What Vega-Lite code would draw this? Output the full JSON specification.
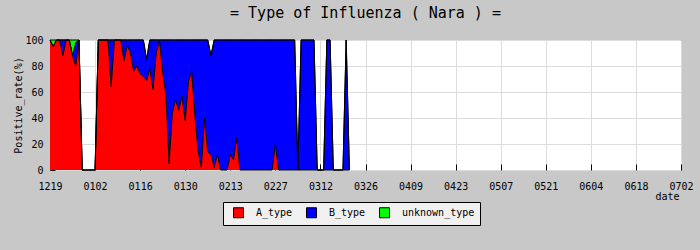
{
  "$schema": "https://vega.github.io/schema/vega-lite/v6.json",
  "width": 631,
  "height": 130,
  "autosize": "none",
  "padding": {"left": 50, "top": 40, "right": 19, "bottom": 80},
  "background": "#c8c8c8",
  "title": {
    "text": "= Type of Influenza ( Nara ) =",
    "font": "DejaVu Sans Mono",
    "fontSize": 15,
    "fontWeight": "normal",
    "color": "#000000",
    "anchor": "middle",
    "offset": 14
  },
  "config": {
    "view": {"fill": "#ffffff", "stroke": "#000000", "strokeWidth": 1}
  },
  "data": {
    "values": [
      {"date": "2023-12-19", "type": "A_type", "value": 100}, {"date": "2023-12-19", "type": "B_type", "value": 0}, {"date": "2023-12-19", "type": "unknown_type", "value": 0},
      {"date": "2023-12-20", "type": "A_type", "value": 95}, {"date": "2023-12-20", "type": "B_type", "value": 0}, {"date": "2023-12-20", "type": "unknown_type", "value": 5},
      {"date": "2023-12-21", "type": "A_type", "value": 100}, {"date": "2023-12-21", "type": "B_type", "value": 0}, {"date": "2023-12-21", "type": "unknown_type", "value": 0},
      {"date": "2023-12-22", "type": "A_type", "value": 100}, {"date": "2023-12-22", "type": "B_type", "value": 0}, {"date": "2023-12-22", "type": "unknown_type", "value": 0},
      {"date": "2023-12-23", "type": "A_type", "value": 88}, {"date": "2023-12-23", "type": "B_type", "value": 12}, {"date": "2023-12-23", "type": "unknown_type", "value": 0},
      {"date": "2023-12-24", "type": "A_type", "value": 100}, {"date": "2023-12-24", "type": "B_type", "value": 0}, {"date": "2023-12-24", "type": "unknown_type", "value": 0},
      {"date": "2023-12-25", "type": "A_type", "value": 100}, {"date": "2023-12-25", "type": "B_type", "value": 0}, {"date": "2023-12-25", "type": "unknown_type", "value": 0},
      {"date": "2023-12-26", "type": "A_type", "value": 88}, {"date": "2023-12-26", "type": "B_type", "value": 0}, {"date": "2023-12-26", "type": "unknown_type", "value": 12},
      {"date": "2023-12-27", "type": "A_type", "value": 80}, {"date": "2023-12-27", "type": "B_type", "value": 18}, {"date": "2023-12-27", "type": "unknown_type", "value": 2},
      {"date": "2023-12-28", "type": "A_type", "value": 100}, {"date": "2023-12-28", "type": "B_type", "value": 0}, {"date": "2023-12-28", "type": "unknown_type", "value": 0},
      {"date": "2023-12-29", "type": "A_type", "value": 0}, {"date": "2023-12-29", "type": "B_type", "value": 0}, {"date": "2023-12-29", "type": "unknown_type", "value": 0},
      {"date": "2023-12-30", "type": "A_type", "value": 0}, {"date": "2023-12-30", "type": "B_type", "value": 0}, {"date": "2023-12-30", "type": "unknown_type", "value": 0},
      {"date": "2023-12-31", "type": "A_type", "value": 0}, {"date": "2023-12-31", "type": "B_type", "value": 0}, {"date": "2023-12-31", "type": "unknown_type", "value": 0},
      {"date": "2024-01-01", "type": "A_type", "value": 0}, {"date": "2024-01-01", "type": "B_type", "value": 0}, {"date": "2024-01-01", "type": "unknown_type", "value": 0},
      {"date": "2024-01-02", "type": "A_type", "value": 0}, {"date": "2024-01-02", "type": "B_type", "value": 0}, {"date": "2024-01-02", "type": "unknown_type", "value": 0},
      {"date": "2024-01-03", "type": "A_type", "value": 100}, {"date": "2024-01-03", "type": "B_type", "value": 0}, {"date": "2024-01-03", "type": "unknown_type", "value": 0},
      {"date": "2024-01-04", "type": "A_type", "value": 100}, {"date": "2024-01-04", "type": "B_type", "value": 0}, {"date": "2024-01-04", "type": "unknown_type", "value": 0},
      {"date": "2024-01-05", "type": "A_type", "value": 100}, {"date": "2024-01-05", "type": "B_type", "value": 0}, {"date": "2024-01-05", "type": "unknown_type", "value": 0},
      {"date": "2024-01-06", "type": "A_type", "value": 100}, {"date": "2024-01-06", "type": "B_type", "value": 0}, {"date": "2024-01-06", "type": "unknown_type", "value": 0},
      {"date": "2024-01-07", "type": "A_type", "value": 64}, {"date": "2024-01-07", "type": "B_type", "value": 36}, {"date": "2024-01-07", "type": "unknown_type", "value": 0},
      {"date": "2024-01-08", "type": "A_type", "value": 100}, {"date": "2024-01-08", "type": "B_type", "value": 0}, {"date": "2024-01-08", "type": "unknown_type", "value": 0},
      {"date": "2024-01-09", "type": "A_type", "value": 100}, {"date": "2024-01-09", "type": "B_type", "value": 0}, {"date": "2024-01-09", "type": "unknown_type", "value": 0},
      {"date": "2024-01-10", "type": "A_type", "value": 100}, {"date": "2024-01-10", "type": "B_type", "value": 0}, {"date": "2024-01-10", "type": "unknown_type", "value": 0},
      {"date": "2024-01-11", "type": "A_type", "value": 84}, {"date": "2024-01-11", "type": "B_type", "value": 16}, {"date": "2024-01-11", "type": "unknown_type", "value": 0},
      {"date": "2024-01-12", "type": "A_type", "value": 96}, {"date": "2024-01-12", "type": "B_type", "value": 4}, {"date": "2024-01-12", "type": "unknown_type", "value": 0},
      {"date": "2024-01-13", "type": "A_type", "value": 90}, {"date": "2024-01-13", "type": "B_type", "value": 10}, {"date": "2024-01-13", "type": "unknown_type", "value": 0},
      {"date": "2024-01-14", "type": "A_type", "value": 76}, {"date": "2024-01-14", "type": "B_type", "value": 24}, {"date": "2024-01-14", "type": "unknown_type", "value": 0},
      {"date": "2024-01-15", "type": "A_type", "value": 80}, {"date": "2024-01-15", "type": "B_type", "value": 20}, {"date": "2024-01-15", "type": "unknown_type", "value": 0},
      {"date": "2024-01-16", "type": "A_type", "value": 74}, {"date": "2024-01-16", "type": "B_type", "value": 26}, {"date": "2024-01-16", "type": "unknown_type", "value": 0},
      {"date": "2024-01-17", "type": "A_type", "value": 72}, {"date": "2024-01-17", "type": "B_type", "value": 28}, {"date": "2024-01-17", "type": "unknown_type", "value": 0},
      {"date": "2024-01-18", "type": "A_type", "value": 69}, {"date": "2024-01-18", "type": "B_type", "value": 16}, {"date": "2024-01-18", "type": "unknown_type", "value": 0},
      {"date": "2024-01-19", "type": "A_type", "value": 78}, {"date": "2024-01-19", "type": "B_type", "value": 22}, {"date": "2024-01-19", "type": "unknown_type", "value": 0},
      {"date": "2024-01-20", "type": "A_type", "value": 62}, {"date": "2024-01-20", "type": "B_type", "value": 38}, {"date": "2024-01-20", "type": "unknown_type", "value": 0},
      {"date": "2024-01-21", "type": "A_type", "value": 90}, {"date": "2024-01-21", "type": "B_type", "value": 10}, {"date": "2024-01-21", "type": "unknown_type", "value": 0},
      {"date": "2024-01-22", "type": "A_type", "value": 100}, {"date": "2024-01-22", "type": "B_type", "value": 0}, {"date": "2024-01-22", "type": "unknown_type", "value": 0},
      {"date": "2024-01-23", "type": "A_type", "value": 75}, {"date": "2024-01-23", "type": "B_type", "value": 25}, {"date": "2024-01-23", "type": "unknown_type", "value": 0},
      {"date": "2024-01-24", "type": "A_type", "value": 58}, {"date": "2024-01-24", "type": "B_type", "value": 42}, {"date": "2024-01-24", "type": "unknown_type", "value": 0},
      {"date": "2024-01-25", "type": "A_type", "value": 5}, {"date": "2024-01-25", "type": "B_type", "value": 95}, {"date": "2024-01-25", "type": "unknown_type", "value": 0},
      {"date": "2024-01-26", "type": "A_type", "value": 44}, {"date": "2024-01-26", "type": "B_type", "value": 56}, {"date": "2024-01-26", "type": "unknown_type", "value": 0},
      {"date": "2024-01-27", "type": "A_type", "value": 54}, {"date": "2024-01-27", "type": "B_type", "value": 46}, {"date": "2024-01-27", "type": "unknown_type", "value": 0},
      {"date": "2024-01-28", "type": "A_type", "value": 46}, {"date": "2024-01-28", "type": "B_type", "value": 54}, {"date": "2024-01-28", "type": "unknown_type", "value": 0},
      {"date": "2024-01-29", "type": "A_type", "value": 57}, {"date": "2024-01-29", "type": "B_type", "value": 43}, {"date": "2024-01-29", "type": "unknown_type", "value": 0},
      {"date": "2024-01-30", "type": "A_type", "value": 38}, {"date": "2024-01-30", "type": "B_type", "value": 62}, {"date": "2024-01-30", "type": "unknown_type", "value": 0},
      {"date": "2024-01-31", "type": "A_type", "value": 68}, {"date": "2024-01-31", "type": "B_type", "value": 32}, {"date": "2024-01-31", "type": "unknown_type", "value": 0},
      {"date": "2024-02-01", "type": "A_type", "value": 76}, {"date": "2024-02-01", "type": "B_type", "value": 24}, {"date": "2024-02-01", "type": "unknown_type", "value": 0},
      {"date": "2024-02-02", "type": "A_type", "value": 42}, {"date": "2024-02-02", "type": "B_type", "value": 58}, {"date": "2024-02-02", "type": "unknown_type", "value": 0},
      {"date": "2024-02-03", "type": "A_type", "value": 15}, {"date": "2024-02-03", "type": "B_type", "value": 85}, {"date": "2024-02-03", "type": "unknown_type", "value": 0},
      {"date": "2024-02-04", "type": "A_type", "value": 2}, {"date": "2024-02-04", "type": "B_type", "value": 98}, {"date": "2024-02-04", "type": "unknown_type", "value": 0},
      {"date": "2024-02-05", "type": "A_type", "value": 40}, {"date": "2024-02-05", "type": "B_type", "value": 60}, {"date": "2024-02-05", "type": "unknown_type", "value": 0},
      {"date": "2024-02-06", "type": "A_type", "value": 14}, {"date": "2024-02-06", "type": "B_type", "value": 86}, {"date": "2024-02-06", "type": "unknown_type", "value": 0},
      {"date": "2024-02-07", "type": "A_type", "value": 12}, {"date": "2024-02-07", "type": "B_type", "value": 76}, {"date": "2024-02-07", "type": "unknown_type", "value": 0},
      {"date": "2024-02-08", "type": "A_type", "value": 2}, {"date": "2024-02-08", "type": "B_type", "value": 98}, {"date": "2024-02-08", "type": "unknown_type", "value": 0},
      {"date": "2024-02-09", "type": "A_type", "value": 12}, {"date": "2024-02-09", "type": "B_type", "value": 88}, {"date": "2024-02-09", "type": "unknown_type", "value": 0},
      {"date": "2024-02-10", "type": "A_type", "value": 0}, {"date": "2024-02-10", "type": "B_type", "value": 100}, {"date": "2024-02-10", "type": "unknown_type", "value": 0},
      {"date": "2024-02-11", "type": "A_type", "value": 0}, {"date": "2024-02-11", "type": "B_type", "value": 100}, {"date": "2024-02-11", "type": "unknown_type", "value": 0},
      {"date": "2024-02-12", "type": "A_type", "value": 0}, {"date": "2024-02-12", "type": "B_type", "value": 100}, {"date": "2024-02-12", "type": "unknown_type", "value": 0},
      {"date": "2024-02-13", "type": "A_type", "value": 12}, {"date": "2024-02-13", "type": "B_type", "value": 88}, {"date": "2024-02-13", "type": "unknown_type", "value": 0},
      {"date": "2024-02-14", "type": "A_type", "value": 8}, {"date": "2024-02-14", "type": "B_type", "value": 92}, {"date": "2024-02-14", "type": "unknown_type", "value": 0},
      {"date": "2024-02-15", "type": "A_type", "value": 25}, {"date": "2024-02-15", "type": "B_type", "value": 75}, {"date": "2024-02-15", "type": "unknown_type", "value": 0},
      {"date": "2024-02-16", "type": "A_type", "value": 0}, {"date": "2024-02-16", "type": "B_type", "value": 100}, {"date": "2024-02-16", "type": "unknown_type", "value": 0},
      {"date": "2024-02-17", "type": "A_type", "value": 0}, {"date": "2024-02-17", "type": "B_type", "value": 100}, {"date": "2024-02-17", "type": "unknown_type", "value": 0},
      {"date": "2024-02-18", "type": "A_type", "value": 0}, {"date": "2024-02-18", "type": "B_type", "value": 100}, {"date": "2024-02-18", "type": "unknown_type", "value": 0},
      {"date": "2024-02-19", "type": "A_type", "value": 0}, {"date": "2024-02-19", "type": "B_type", "value": 100}, {"date": "2024-02-19", "type": "unknown_type", "value": 0},
      {"date": "2024-02-20", "type": "A_type", "value": 0}, {"date": "2024-02-20", "type": "B_type", "value": 100}, {"date": "2024-02-20", "type": "unknown_type", "value": 0},
      {"date": "2024-02-21", "type": "A_type", "value": 0}, {"date": "2024-02-21", "type": "B_type", "value": 100}, {"date": "2024-02-21", "type": "unknown_type", "value": 0},
      {"date": "2024-02-22", "type": "A_type", "value": 0}, {"date": "2024-02-22", "type": "B_type", "value": 100}, {"date": "2024-02-22", "type": "unknown_type", "value": 0},
      {"date": "2024-02-23", "type": "A_type", "value": 0}, {"date": "2024-02-23", "type": "B_type", "value": 100}, {"date": "2024-02-23", "type": "unknown_type", "value": 0},
      {"date": "2024-02-24", "type": "A_type", "value": 0}, {"date": "2024-02-24", "type": "B_type", "value": 100}, {"date": "2024-02-24", "type": "unknown_type", "value": 0},
      {"date": "2024-02-25", "type": "A_type", "value": 0}, {"date": "2024-02-25", "type": "B_type", "value": 100}, {"date": "2024-02-25", "type": "unknown_type", "value": 0},
      {"date": "2024-02-26", "type": "A_type", "value": 0}, {"date": "2024-02-26", "type": "B_type", "value": 100}, {"date": "2024-02-26", "type": "unknown_type", "value": 0},
      {"date": "2024-02-27", "type": "A_type", "value": 20}, {"date": "2024-02-27", "type": "B_type", "value": 80}, {"date": "2024-02-27", "type": "unknown_type", "value": 0},
      {"date": "2024-02-28", "type": "A_type", "value": 0}, {"date": "2024-02-28", "type": "B_type", "value": 100}, {"date": "2024-02-28", "type": "unknown_type", "value": 0},
      {"date": "2024-02-29", "type": "A_type", "value": 0}, {"date": "2024-02-29", "type": "B_type", "value": 100}, {"date": "2024-02-29", "type": "unknown_type", "value": 0},
      {"date": "2024-03-01", "type": "A_type", "value": 0}, {"date": "2024-03-01", "type": "B_type", "value": 100}, {"date": "2024-03-01", "type": "unknown_type", "value": 0},
      {"date": "2024-03-02", "type": "A_type", "value": 0}, {"date": "2024-03-02", "type": "B_type", "value": 100}, {"date": "2024-03-02", "type": "unknown_type", "value": 0},
      {"date": "2024-03-03", "type": "A_type", "value": 0}, {"date": "2024-03-03", "type": "B_type", "value": 100}, {"date": "2024-03-03", "type": "unknown_type", "value": 0},
      {"date": "2024-03-04", "type": "A_type", "value": 0}, {"date": "2024-03-04", "type": "B_type", "value": 100}, {"date": "2024-03-04", "type": "unknown_type", "value": 0},
      {"date": "2024-03-05", "type": "A_type", "value": 0}, {"date": "2024-03-05", "type": "B_type", "value": 0}, {"date": "2024-03-05", "type": "unknown_type", "value": 0},
      {"date": "2024-03-06", "type": "A_type", "value": 0}, {"date": "2024-03-06", "type": "B_type", "value": 100}, {"date": "2024-03-06", "type": "unknown_type", "value": 0},
      {"date": "2024-03-07", "type": "A_type", "value": 0}, {"date": "2024-03-07", "type": "B_type", "value": 100}, {"date": "2024-03-07", "type": "unknown_type", "value": 0},
      {"date": "2024-03-08", "type": "A_type", "value": 0}, {"date": "2024-03-08", "type": "B_type", "value": 100}, {"date": "2024-03-08", "type": "unknown_type", "value": 0},
      {"date": "2024-03-09", "type": "A_type", "value": 0}, {"date": "2024-03-09", "type": "B_type", "value": 100}, {"date": "2024-03-09", "type": "unknown_type", "value": 0},
      {"date": "2024-03-10", "type": "A_type", "value": 0}, {"date": "2024-03-10", "type": "B_type", "value": 100}, {"date": "2024-03-10", "type": "unknown_type", "value": 0},
      {"date": "2024-03-11", "type": "A_type", "value": 0}, {"date": "2024-03-11", "type": "B_type", "value": 0}, {"date": "2024-03-11", "type": "unknown_type", "value": 0},
      {"date": "2024-03-12", "type": "A_type", "value": 0}, {"date": "2024-03-12", "type": "B_type", "value": 0}, {"date": "2024-03-12", "type": "unknown_type", "value": 0},
      {"date": "2024-03-13", "type": "A_type", "value": 0}, {"date": "2024-03-13", "type": "B_type", "value": 0}, {"date": "2024-03-13", "type": "unknown_type", "value": 0},
      {"date": "2024-03-14", "type": "A_type", "value": 0}, {"date": "2024-03-14", "type": "B_type", "value": 100}, {"date": "2024-03-14", "type": "unknown_type", "value": 0},
      {"date": "2024-03-15", "type": "A_type", "value": 0}, {"date": "2024-03-15", "type": "B_type", "value": 100}, {"date": "2024-03-15", "type": "unknown_type", "value": 0},
      {"date": "2024-03-16", "type": "A_type", "value": 0}, {"date": "2024-03-16", "type": "B_type", "value": 0}, {"date": "2024-03-16", "type": "unknown_type", "value": 0},
      {"date": "2024-03-17", "type": "A_type", "value": 0}, {"date": "2024-03-17", "type": "B_type", "value": 0}, {"date": "2024-03-17", "type": "unknown_type", "value": 0},
      {"date": "2024-03-18", "type": "A_type", "value": 0}, {"date": "2024-03-18", "type": "B_type", "value": 0}, {"date": "2024-03-18", "type": "unknown_type", "value": 0},
      {"date": "2024-03-19", "type": "A_type", "value": 0}, {"date": "2024-03-19", "type": "B_type", "value": 0}, {"date": "2024-03-19", "type": "unknown_type", "value": 0},
      {"date": "2024-03-20", "type": "A_type", "value": 0}, {"date": "2024-03-20", "type": "B_type", "value": 100}, {"date": "2024-03-20", "type": "unknown_type", "value": 0},
      {"date": "2024-03-21", "type": "A_type", "value": 0}, {"date": "2024-03-21", "type": "B_type", "value": 0}, {"date": "2024-03-21", "type": "unknown_type", "value": 0}
    ]
  },
  "encoding": {
    "x": {
      "field": "date",
      "type": "temporal",
      "scale": {
        "type": "utc",
        "nice": false,
        "domain": [
          {"year": 2023, "month": 12, "date": 19, "utc": true},
          {"year": 2024, "month": 7, "date": 2, "utc": true}
        ]
      },
      "axis": {
        "values": [
          {"year": 2023, "month": 12, "date": 19, "utc": true},
          {"year": 2024, "month": 1, "date": 2, "utc": true},
          {"year": 2024, "month": 1, "date": 16, "utc": true},
          {"year": 2024, "month": 1, "date": 30, "utc": true},
          {"year": 2024, "month": 2, "date": 13, "utc": true},
          {"year": 2024, "month": 2, "date": 27, "utc": true},
          {"year": 2024, "month": 3, "date": 12, "utc": true},
          {"year": 2024, "month": 3, "date": 26, "utc": true},
          {"year": 2024, "month": 4, "date": 9, "utc": true},
          {"year": 2024, "month": 4, "date": 23, "utc": true},
          {"year": 2024, "month": 5, "date": 7, "utc": true},
          {"year": 2024, "month": 5, "date": 21, "utc": true},
          {"year": 2024, "month": 6, "date": 4, "utc": true},
          {"year": 2024, "month": 6, "date": 18, "utc": true},
          {"year": 2024, "month": 7, "date": 2, "utc": true}
        ],
        "format": "%m%d",
        "labelAngle": 0,
        "labelFlush": false,
        "labelOverlap": false,
        "labelFont": "DejaVu Sans Mono",
        "labelFontSize": 10,
        "labelColor": "#000000",
        "labelPadding": 17,
        "tickSize": -6,
        "tickColor": "#000000",
        "domain": false,
        "grid": true,
        "gridColor": "#dcdcdc",
        "title": "date",
        "titleFont": "DejaVu Sans Mono",
        "titleFontSize": 10,
        "titleFontWeight": "normal",
        "titleColor": "#000000",
        "titleAnchor": "end",
        "titleAlign": "right",
        "titleBaseline": "alphabetic",
        "titleX": 629,
        "titleY": 29
      }
    },
    "y": {
      "field": "value",
      "type": "quantitative",
      "stack": "zero",
      "scale": {"domain": [0, 100], "nice": false},
      "axis": {
        "values": [0, 10, 20, 30, 40, 50, 60, 70, 80, 90, 100],
        "labelExpr": "datum.value % 20 === 0 ? datum.label : ''",
        "labelFont": "DejaVu Sans Mono",
        "labelFontSize": 10,
        "labelColor": "#000000",
        "labelPadding": 12,
        "tickSize": -5,
        "tickColor": "#000000",
        "domain": false,
        "grid": true,
        "gridColor": {"condition": {"test": "datum.value % 20 === 0", "value": "#dcdcdc"}, "value": "transparent"},
        "title": "Positive_rate(%)",
        "titleFont": "DejaVu Sans Mono",
        "titleFontSize": 10,
        "titleFontWeight": "normal",
        "titleColor": "#000000",
        "titlePadding": 1
      }
    },
    "order": {"field": "type", "sort": "ascending"}
  },
  "layer": [
    {
      "mark": {"type": "area", "interpolate": "linear", "opacity": 1},
      "encoding": {
        "color": {
          "field": "type",
          "type": "nominal",
          "scale": {
            "domain": ["A_type", "B_type", "unknown_type"],
            "range": ["#ff0000", "#0000ff", "#00ff00"]
          },
          "legend": {
            "orient": "none",
            "legendX": 173,
            "legendY": 162,
            "direction": "horizontal",
            "title": null,
            "fillColor": "#f0f0f0",
            "strokeColor": "#000000",
            "padding": 5,
            "symbolType": "square",
            "symbolSize": 100,
            "symbolOffset": 5,
            "symbolStrokeColor": "#000000",
            "symbolStrokeWidth": 1,
            "symbolOpacity": 1,
            "labelFont": "DejaVu Sans Mono",
            "labelFontSize": 10,
            "labelColor": "#000000",
            "labelOffset": 12,
            "labelExpr": "datum.label + ' '",
            "columnPadding": 8
          }
        }
      }
    },
    {
      "mark": {"type": "line", "interpolate": "linear", "color": "#000000", "strokeWidth": 1},
      "encoding": {
        "detail": {"field": "type", "type": "nominal"}
      }
    }
  ]
}
